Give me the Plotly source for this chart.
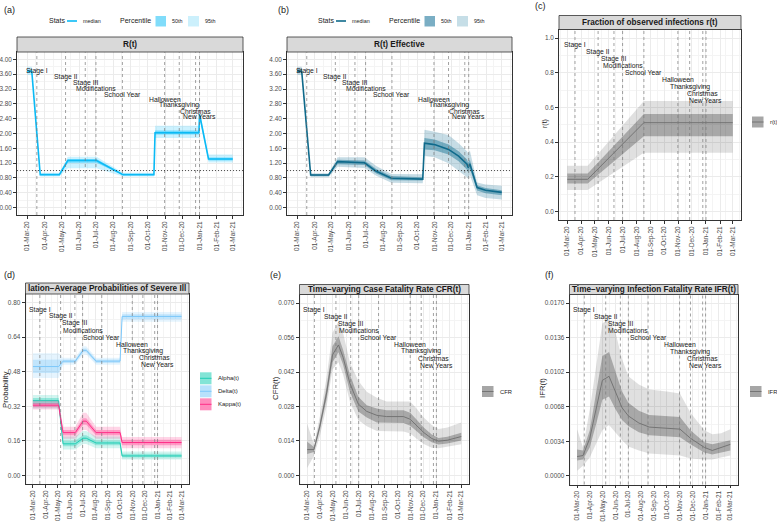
import plotly.graph_objects as go

W, H = 777, 523
FONT = "Liberation Sans, Arial, sans-serif"

# ---- shared axis data ----
TICK_DATES = ["2020-03-01", "2020-04-01", "2020-05-01", "2020-06-01", "2020-07-01",
              "2020-08-01", "2020-09-01", "2020-10-01", "2020-11-01", "2020-12-01",
              "2021-01-01", "2021-02-01", "2021-03-01"]
MINOR_DATES = ["2020-02-15", "2020-03-16", "2020-04-16", "2020-05-16", "2020-06-16",
               "2020-07-16", "2020-08-16", "2020-09-16", "2020-10-16", "2020-11-16",
               "2020-12-16", "2021-01-16", "2021-02-14", "2021-03-16"]
EVENT_NAMES = ["Stage I", "Stage II", "Stage III", "Modifications", "School Year",
               "Halloween", "Thanksgiving", "Christmas", "New Years"]
EVENT_DATES = ["2020-03-18", "2020-05-08", "2020-06-12", "2020-07-01", "2020-08-17",
               "2020-10-31", "2020-11-26", "2020-12-25", "2021-01-01"]

# ---- (a) R(t) ----
A_DATES = ["2020-03-01", "2020-03-09", "2020-03-24", "2020-04-27", "2020-05-12", "2020-07-02",
           "2020-08-18", "2020-10-12", "2020-10-14", "2020-12-31", "2021-01-01", "2021-01-17",
           "2021-03-01"]
A_MED = [3.68, 3.68, 0.89, 0.89, 1.27, 1.27, 0.89, 0.89, 2.02, 2.02, 2.52, 1.31, 1.31]
A_LO50 = [3.64, 3.64, 0.87, 0.87, 1.21, 1.21, 0.87, 0.87, 1.97, 1.97, 2.46, 1.27, 1.27]
A_HI50 = [3.72, 3.72, 0.91, 0.91, 1.31, 1.31, 0.91, 0.91, 2.08, 2.08, 2.57, 1.35, 1.35]
A_LO95 = [3.58, 3.58, 0.84, 0.84, 1.06, 1.06, 0.84, 0.84, 1.88, 1.88, 2.40, 1.22, 1.22]
A_HI95 = [3.80, 3.80, 0.94, 0.94, 1.37, 1.37, 0.94, 0.94, 2.21, 2.21, 2.65, 1.43, 1.43]

# ---- (b) R(t) Effective ----
B_DATES = ["2020-03-01", "2020-03-09", "2020-03-25", "2020-04-26", "2020-05-12", "2020-06-29",
           "2020-07-20", "2020-08-16", "2020-10-11", "2020-10-14", "2020-11-01", "2020-11-26",
           "2020-12-14", "2020-12-29", "2020-12-31", "2021-01-03", "2021-01-16", "2021-01-31",
           "2021-03-01"]
B_MED = [3.68, 3.68, 0.88, 0.88, 1.24, 1.21, 0.98, 0.79, 0.77, 1.74, 1.70, 1.57,
         1.39, 1.17, 1.08, 1.18, 0.54, 0.47, 0.41]
B_LO50 = [3.64, 3.64, 0.85, 0.85, 1.17, 1.15, 0.92, 0.74, 0.73, 1.57, 1.55, 1.43,
          1.25, 1.02, 0.94, 1.05, 0.46, 0.39, 0.33]
B_HI50 = [3.74, 3.74, 0.90, 0.90, 1.29, 1.27, 1.04, 0.85, 0.82, 1.88, 1.84, 1.70,
          1.52, 1.30, 1.21, 1.30, 0.60, 0.53, 0.47]
B_LO95 = [3.58, 3.58, 0.82, 0.82, 1.10, 1.07, 0.86, 0.67, 0.66, 1.39, 1.36, 1.20,
          1.00, 0.82, 0.77, 0.88, 0.33, 0.26, 0.22]
B_HI95 = [3.80, 3.80, 0.93, 0.93, 1.36, 1.36, 1.12, 0.91, 0.90, 2.10, 2.05, 1.96,
          1.74, 1.52, 1.46, 1.55, 0.68, 0.62, 0.59]

# ---- (c) r(t) ----
C_DATES = ["2020-03-01", "2020-04-15", "2020-08-17", "2021-03-01"]
C_MED = [0.185, 0.185, 0.512, 0.512]
C_LO50 = [0.161, 0.161, 0.434, 0.434]
C_HI50 = [0.219, 0.219, 0.562, 0.562]
C_LO95 = [0.123, 0.123, 0.338, 0.338]
C_HI95 = [0.263, 0.263, 0.637, 0.637]

# ---- (d) probabilities of severe illness ----
D_DATES = ["2020-03-01", "2020-05-03", "2020-05-14", "2020-06-13", "2020-07-02", "2020-07-10",
           "2020-08-03", "2020-10-01", "2020-10-06", "2021-03-01"]
D_SERIES = ["Alpha(t)", "Delta(t)", "Kappa(t)"]
ALPHA_MED = [0.346, 0.346, 0.146, 0.146, 0.172, 0.172, 0.150, 0.150, 0.090, 0.090]
ALPHA_LO50 = [0.330, 0.330, 0.135, 0.135, 0.160, 0.160, 0.140, 0.140, 0.083, 0.083]
ALPHA_HI50 = [0.358, 0.358, 0.160, 0.160, 0.186, 0.186, 0.162, 0.162, 0.100, 0.100]
ALPHA_LO95 = [0.310, 0.310, 0.120, 0.120, 0.145, 0.145, 0.125, 0.125, 0.073, 0.073]
ALPHA_HI95 = [0.372, 0.372, 0.180, 0.180, 0.205, 0.205, 0.180, 0.180, 0.110, 0.110]
DELTA_MED = [0.504, 0.504, 0.529, 0.529, 0.579, 0.579, 0.529, 0.529, 0.736, 0.736]
DELTA_LO50 = [0.474, 0.474, 0.520, 0.520, 0.570, 0.570, 0.520, 0.520, 0.723, 0.723]
DELTA_HI50 = [0.535, 0.535, 0.537, 0.537, 0.588, 0.588, 0.537, 0.537, 0.746, 0.746]
DELTA_LO95 = [0.451, 0.451, 0.512, 0.512, 0.560, 0.560, 0.512, 0.512, 0.711, 0.711]
DELTA_HI95 = [0.566, 0.566, 0.545, 0.545, 0.598, 0.598, 0.545, 0.545, 0.757, 0.757]
KAPPA_MED = [0.325, 0.325, 0.198, 0.198, 0.251, 0.251, 0.198, 0.198, 0.152, 0.152]
KAPPA_LO50 = [0.315, 0.315, 0.186, 0.186, 0.235, 0.235, 0.186, 0.186, 0.140, 0.140]
KAPPA_HI50 = [0.335, 0.335, 0.210, 0.210, 0.265, 0.265, 0.210, 0.210, 0.165, 0.165]
KAPPA_LO95 = [0.305, 0.305, 0.170, 0.170, 0.210, 0.210, 0.170, 0.170, 0.125, 0.125]
KAPPA_HI95 = [0.345, 0.345, 0.225, 0.225, 0.290, 0.290, 0.225, 0.225, 0.178, 0.178]

# ---- (e) CFR(t) ----
E_DATES = ["2020-03-01", "2020-03-17", "2020-03-31", "2020-04-16", "2020-04-30", "2020-05-14",
           "2020-05-25", "2020-06-10", "2020-06-30", "2020-07-20", "2020-08-13", "2020-09-05",
           "2020-10-15", "2020-10-31", "2020-11-16", "2020-12-02", "2020-12-21", "2021-01-06",
           "2021-01-27", "2021-03-01"]
E_MED = [0.0105, 0.0105, 0.0200, 0.0335, 0.0490, 0.0530, 0.0480, 0.0375, 0.0290, 0.0260,
         0.0244, 0.0239, 0.0239, 0.0228, 0.0201, 0.0174, 0.0150, 0.0139, 0.0143, 0.0158]
E_LO50 = [0.0087, 0.0095, 0.0185, 0.0310, 0.0460, 0.0500, 0.0450, 0.0340, 0.0260, 0.0235,
          0.0215, 0.0213, 0.0213, 0.0202, 0.0178, 0.0155, 0.0135, 0.0126, 0.0130, 0.0142]
E_HI50 = [0.0137, 0.0115, 0.0215, 0.0360, 0.0525, 0.0565, 0.0510, 0.0410, 0.0320, 0.0285,
          0.0272, 0.0265, 0.0265, 0.0255, 0.0225, 0.0195, 0.0166, 0.0152, 0.0157, 0.0173]
E_LO95 = [0.0030, 0.0080, 0.0160, 0.0280, 0.0430, 0.0460, 0.0410, 0.0300, 0.0225, 0.0200,
          0.0180, 0.0178, 0.0178, 0.0170, 0.0148, 0.0128, 0.0112, 0.0110, 0.0118, 0.0127]
E_HI95 = [0.0210, 0.0125, 0.0240, 0.0400, 0.0580, 0.0625, 0.0580, 0.0460, 0.0385, 0.0340,
          0.0315, 0.0300, 0.0300, 0.0300, 0.0270, 0.0235, 0.0205, 0.0188, 0.0195, 0.0215]

# ---- (f) IFR(t) ----
F_DATES = ["2020-03-01", "2020-03-15", "2020-03-31", "2020-04-16", "2020-04-30", "2020-05-16",
           "2020-06-01", "2020-06-16", "2020-07-01", "2020-07-26", "2020-08-20", "2020-10-01",
           "2020-11-01", "2020-11-26", "2020-12-29", "2021-01-17", "2021-02-07", "2021-03-01"]
F_MED = [0.0019, 0.0020, 0.0037, 0.0068, 0.0094, 0.0098, 0.0081, 0.0067, 0.0059, 0.0052,
         0.0048, 0.0047, 0.0046, 0.0037, 0.0028, 0.0025, 0.0028, 0.0031]
F_LO50 = [0.0015, 0.0016, 0.0028, 0.0052, 0.0075, 0.0078, 0.0065, 0.0055, 0.0049, 0.0043,
          0.0040, 0.0039, 0.0038, 0.0031, 0.0023, 0.0021, 0.0023, 0.0025]
F_HI50 = [0.0026, 0.0025, 0.0045, 0.0085, 0.0118, 0.0122, 0.0101, 0.0083, 0.0072, 0.0064,
          0.0060, 0.0059, 0.0058, 0.0045, 0.0033, 0.0031, 0.0033, 0.0035]
F_LO95 = [0.0005, 0.0010, 0.0018, 0.0032, 0.0045, 0.0050, 0.0042, 0.0035, 0.0029, 0.0025,
          0.0022, 0.0021, 0.0020, 0.0017, 0.0016, 0.0016, 0.0018, 0.0020]
F_HI95 = [0.0046, 0.0028, 0.0065, 0.0110, 0.0150, 0.0155, 0.0140, 0.0115, 0.0098, 0.0090,
          0.0085, 0.0083, 0.0081, 0.0062, 0.0045, 0.0041, 0.0042, 0.0046]


def px(x):
    return x / W


def py(y):
    return 1 - y / H


# panel boxes in pixels: plot area and strip top
PANELS = {
    "a": dict(ax="", x0=17, x1=243, y0=52, y1=215, st=37, title="R(t)",
              rng=[-0.2, 4.2], dt=0.4, fmt=".2f", top=3.83),
    "b": dict(ax="2", x0=287, x1=512, y0=52, y1=215, st=37, title="R(t) Effective",
              rng=[-0.2, 4.2], dt=0.4, fmt=".2f", top=3.83),
    "c": dict(ax="3", x0=559, x1=741, y0=29.5, y1=220, st=15.5,
              title="Fraction of observed infections r(t)",
              rng=[-0.05, 1.05], dt=0.2, fmt=".1f", top=1.0),
    "d": dict(ax="4", x0=25.5, x1=189, y0=294, y1=484, st=283,
              title="lation\u2212Average Probabilities of Severe Ill",
              rng=[-0.04, 0.84], dt=0.16, fmt=".2f", top=0.8),
    "e": dict(ax="5", x0=299.5, x1=469, y0=294.5, y1=484, st=284.5,
              title="Time\u2212varying Case Fatality Rate CFR(t)",
              rng=[-0.0035, 0.0735], dt=0.014, fmt=".3f", top=0.07),
    "f": dict(ax="6", x0=569.5, x1=738, y0=294.5, y1=484.5, st=284.5,
              title="Time\u2212varying Infection Fatality Rate IFR(t)",
              rng=[-0.00085, 0.01785], dt=0.0034, fmt=".4f", top=0.017),
}
LETTER_POS = {"a": (2, 10), "b": (276, 10), "c": (533, 6), "d": (2, 275), "e": (268, 275), "f": (543, 275)}

fig = go.Figure()
shapes = []
annotations = []
layout = {}


def add_ribbon(p, xs, lo, hi, color):
    ax = PANELS[p]["ax"]
    fig.add_trace(go.Scatter(
        x=list(xs) + list(xs)[::-1], y=list(hi) + list(lo)[::-1],
        fill="toself", fillcolor=color, mode="lines", line=dict(width=0),
        hoverinfo="skip", showlegend=False, xaxis="x" + ax, yaxis="y" + ax))


def add_line(p, xs, ys, color, width=1.4):
    ax = PANELS[p]["ax"]
    fig.add_trace(go.Scatter(
        x=xs, y=ys, mode="lines", line=dict(color=color, width=width),
        hoverinfo="skip", showlegend=False, xaxis="x" + ax, yaxis="y" + ax))


# ---- traces ----
add_ribbon("a", A_DATES, A_LO95, A_HI95, "rgba(0,191,255,0.2)")
add_ribbon("a", A_DATES, A_LO50, A_HI50, "rgba(0,191,255,0.45)")
add_line("a", A_DATES, A_MED, "#0BBAF5", 1.6)

add_ribbon("b", B_DATES, B_LO95, B_HI95, "rgba(16,110,145,0.24)")
add_ribbon("b", B_DATES, B_LO50, B_HI50, "rgba(16,110,145,0.45)")
add_line("b", B_DATES, B_MED, "#0F6A8B", 1.6)

GREY_95, GREY_50, GREY_LINE = "rgba(0,0,0,0.12)", "rgba(0,0,0,0.25)", "#6E6E6E"
add_ribbon("c", C_DATES, C_LO95, C_HI95, GREY_95)
add_ribbon("c", C_DATES, C_LO50, C_HI50, GREY_50)
add_line("c", C_DATES, C_MED, GREY_LINE, 0.9)

D_COLORS = {"Alpha(t)": (30, 205, 180), "Delta(t)": (125, 200, 250), "Kappa(t)": (255, 45, 135)}
for name, lo95, lo50, med, hi50, hi95 in [
        ("Alpha(t)", ALPHA_LO95, ALPHA_LO50, ALPHA_MED, ALPHA_HI50, ALPHA_HI95),
        ("Delta(t)", DELTA_LO95, DELTA_LO50, DELTA_MED, DELTA_HI50, DELTA_HI95),
        ("Kappa(t)", KAPPA_LO95, KAPPA_LO50, KAPPA_MED, KAPPA_HI50, KAPPA_HI95)]:
    r, g, b = D_COLORS[name]
    add_ribbon("d", D_DATES, lo95, hi95, f"rgba({r},{g},{b},0.2)")
    add_ribbon("d", D_DATES, lo50, hi50, f"rgba({r},{g},{b},0.35)")
    add_line("d", D_DATES, med, f"rgb({r},{g},{b})", 1.0)

add_ribbon("e", E_DATES, E_LO95, E_HI95, GREY_95)
add_ribbon("e", E_DATES, E_LO50, E_HI50, GREY_50)
add_line("e", E_DATES, E_MED, GREY_LINE, 0.9)

add_ribbon("f", F_DATES, F_LO95, F_HI95, GREY_95)
add_ribbon("f", F_DATES, F_LO50, F_HI50, GREY_50)
add_line("f", F_DATES, F_MED, GREY_LINE, 0.9)

# ---- axes, strips, event markers ----
for key, p in PANELS.items():
    ax = p["ax"]
    xname, yname = "xaxis" + ax, "yaxis" + ax
    layout[xname] = dict(
        domain=[px(p["x0"]), px(p["x1"])], anchor="y" + ax, type="date",
        range=["2020-02-11 18:00", "2021-03-19 06:00"],
        tickmode="array", tickvals=TICK_DATES, tickformat="%d-%b-%y", tickangle=-90,
        tickfont=dict(size=6.4, color="#4D4D4D", family=FONT),
        ticks="outside", ticklen=3, tickwidth=0.6, tickcolor="#333333",
        showgrid=True, gridcolor="#EBEBEB", gridwidth=0.8,
        minor=dict(tickmode="array", tickvals=MINOR_DATES, showgrid=True,
                   gridcolor="#F4F4F4", gridwidth=0.5, ticks=""),
        showline=True, mirror=True, linecolor="#333333", linewidth=0.8, zeroline=False)
    layout[yname] = dict(
        domain=[py(p["y1"]), py(p["y0"])], anchor="x" + ax,
        range=p["rng"], tick0=0, dtick=p["dt"], tickformat=p["fmt"],
        tickfont=dict(size=6.4, color="#4D4D4D", family=FONT),
        ticks="outside", ticklen=3, tickwidth=0.6, tickcolor="#333333",
        showgrid=True, gridcolor="#EBEBEB", gridwidth=0.8,
        minor=dict(dtick=p["dt"] / 2, tick0=0, showgrid=True, gridcolor="#F4F4F4",
                   gridwidth=0.5, ticks=""),
        showline=True, mirror=True, linecolor="#333333", linewidth=0.8, zeroline=False)

    # strip
    shapes.append(dict(type="rect", xref="paper", yref="paper",
                       x0=px(p["x0"]), x1=px(p["x1"]), y0=py(p["y0"]), y1=py(p["st"]),
                       fillcolor="#D9D9D9", line=dict(color="#333333", width=0.8), layer="above"))
    annotations.append(dict(xref="paper", yref="paper", x=px((p["x0"] + p["x1"]) / 2),
                            y=py((p["y0"] + p["st"]) / 2), text="<b>%s</b>" % p["title"],
                            showarrow=False, xanchor="center", yanchor="middle",
                            font=dict(size=8.2, color="#1A1A1A", family=FONT)))
    # panel letter
    lx, ly = LETTER_POS[key]
    annotations.append(dict(xref="paper", yref="paper", x=px(lx), y=py(ly), text="(%s)" % key,
                            showarrow=False, xanchor="left", yanchor="middle",
                            font=dict(size=9, color="#1A1A1A", family=FONT)))

    # event lines and labels
    for k, (nm, dte) in enumerate(zip(EVENT_NAMES, EVENT_DATES)):
        shapes.append(dict(type="line", xref="x" + ax, yref="y%s domain" % ax,
                           x0=dte, x1=dte, y0=0, y1=1,
                           line=dict(color="#7A7A7A", width=0.7, dash="3px,3px"), layer="above"))
        annotations.append(dict(xref="x" + ax, yref="y" + ax, x=dte,
                                y=p["top"] * (0.96 - 0.04 * k), text=nm, showarrow=False,
                                xanchor="center", yanchor="middle",
                                font=dict(size=6.8, color="#1A1A1A", family=FONT)))

# reference line at R = 1
for key in ["a", "b"]:
    ax = PANELS[key]["ax"]
    shapes.append(dict(type="line", xref="x%s domain" % ax, yref="y" + ax, x0=0, x1=1, y0=1, y1=1,
                       line=dict(color="#222222", width=0.8, dash="1px,2px"), layer="above"))


# ---- hand drawn legends ----
def text(x, y, s, size=5.4, anchor="left", color="#1A1A1A", angle=0):
    annotations.append(dict(xref="paper", yref="paper", x=px(x), y=py(y), text=s,
                            showarrow=False, xanchor=anchor, yanchor="middle", textangle=angle,
                            font=dict(size=size, color=color, family=FONT)))


def box(x0, x1, y0, y1, color):
    shapes.append(dict(type="rect", xref="paper", yref="paper", x0=px(x0), x1=px(x1),
                       y0=py(y1), y1=py(y0), fillcolor=color, line=dict(width=0)))


def hline(x0, x1, y, color, width):
    shapes.append(dict(type="line", xref="paper", yref="paper", x0=px(x0), x1=px(x1),
                       y0=py(y), y1=py(y), line=dict(color=color, width=width)))


# (a) and (b) top legends
for x_off, line_col, c50, c95 in [(0, "#0BBAF5", "#80DCFA", "#CCF0FC"),
                                  (269, "#0F6A8B", "#7AAEC4", "#C6DEE7")]:
    text(46.5 + x_off, 21, "Stats", 7)
    hline(67 + x_off, 77 + x_off, 21, line_col, 1.6)
    text(81 + x_off, 21, "median")
    text(118 + x_off, 21, "Percentile", 7)
    box(155.5 + x_off, 166 + x_off, 16, 26.5, c50)
    text(170 + x_off, 21, "50th")
    box(188 + x_off, 199 + x_off, 16, 26.5, c95)
    text(203 + x_off, 21, "95th")

# grey side legends
for bx, by, label in [(752, 122, "r(t)"), (482, 391.5, "CFR"), (750, 391.5, "IFR")]:
    box(bx, bx + 11.5, by - 5.5, by + 5.5, "#A6A6A6")
    hline(bx, bx + 11.5, by, GREY_LINE, 0.9)
    text(bx + 16, by, label, 5.8)

# (d) legend
for i, name in enumerate(D_SERIES):
    r, g, b = D_COLORS[name]
    yc = 378.3 + 13 * i
    box(200, 211.5, yc - 6, yc + 6, f"rgba({r},{g},{b},0.55)")
    hline(200, 211.5, yc, f"rgb({r},{g},{b})", 1.0)
    text(215.5, yc, name, 6)

# axis titles
text(545, 124, "r(t)", 7, "center", angle=-90)
text(5, 390, "Probability", 7.8, "center", angle=-90)
text(275, 388, "CFR(t)", 7.8, "center", angle=-90)
text(542, 388, "IFR(t)", 7.8, "center", angle=-90)

fig.update_layout(
    width=W, height=H, margin=dict(l=0, r=0, t=0, b=0),
    paper_bgcolor="white", plot_bgcolor="white", showlegend=False,
    font=dict(family=FONT), shapes=shapes, annotations=annotations, **layout)

# page body has a default margin; drop it so the figure sits at the window origin
fig.write_html("out.html", config={"displayModeBar": False},
               post_script="document.body.style.margin='0px';")
